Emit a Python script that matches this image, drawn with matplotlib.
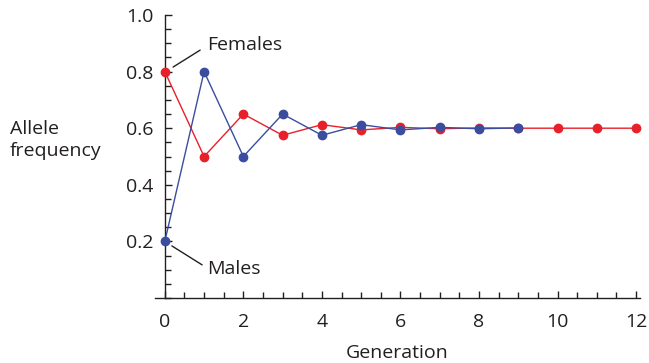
import matplotlib.pyplot as plt
from matplotlib.ticker import MultipleLocator

# allele frequency
generations_f = [0, 1, 2, 3, 4, 5, 6, 7, 8, 9, 10, 11, 12]
females = [0.8, 0.5, 0.65, 0.575, 0.6125, 0.594, 0.603, 0.598, 0.601, 0.600, 0.600, 0.600, 0.600]
generations_m = [0, 1, 2, 3, 4, 5, 6, 7, 8, 9]
males = [0.2, 0.8, 0.5, 0.65, 0.575, 0.6125, 0.594, 0.603, 0.598, 0.601]
xticks = [0, 2, 4, 6, 8, 10, 12]
yticks = [0.2, 0.4, 0.6, 0.8, 1.0]

red = '#e8202a'
blue = '#3b4d9e'
ink = '#231f20'

plt.rcParams['font.family'] = ['Open Sans', 'DejaVu Sans']
plt.rcParams['font.size'] = 14

fig = plt.figure(figsize=(6.49, 3.63), dpi=100)
ax = fig.add_axes([155 / 649, 1 - 298 / 363, 485 / 649, 283 / 363])

ax.plot(generations_f, females, color=red, lw=1.0, marker='o', ms=6,
        clip_on=False, zorder=3)
ax.plot(generations_m, males, color=blue, lw=1.0, marker='o', ms=6,
        clip_on=False, zorder=4)

ax.set_xlim(-0.25, 12.1)
ax.set_ylim(0, 1.0)

for s in ['top', 'right']:
    ax.spines[s].set_visible(False)
ax.spines['left'].set_position(('data', 0))
for s in ['left', 'bottom']:
    ax.spines[s].set_color(ink)
    ax.spines[s].set_linewidth(1.0)

ax.set_xticks(xticks)
ax.set_yticks(yticks)
ax.xaxis.set_minor_locator(MultipleLocator(0.5))
ax.yaxis.set_minor_locator(MultipleLocator(0.05))
ax.tick_params(which='both', direction='in', color=ink, width=1.0,
               labelcolor=ink, labelsize=14)
ax.tick_params(which='major', length=5)
ax.tick_params(which='minor', length=4)
ax.tick_params(axis='y', which='major', pad=8)
ax.tick_params(axis='x', which='major', pad=11)

ax.set_xlabel('Generation', color=ink, fontsize=14, labelpad=9)
fig.text(10 / 649, 1 - 140 / 363, 'Allele\nfrequency', color=ink,
         fontsize=14, ha='left', va='center', linespacing=1.25)

# labels with leader lines
ax.text(1.09, 0.895, 'Females', color=ink, fontsize=14, va='center')
ax.annotate('', xy=(0.21, 0.816), xytext=(0.9, 0.876),
            arrowprops=dict(arrowstyle='-', color=ink, lw=1.0,
                            shrinkA=0, shrinkB=0))
ax.text(1.07, 0.104, 'Males', color=ink, fontsize=14, va='center')
ax.annotate('', xy=(0.18, 0.184), xytext=(0.95, 0.117),
            arrowprops=dict(arrowstyle='-', color=ink, lw=1.0,
                            shrinkA=0, shrinkB=0))

fig.savefig('out.png', dpi=100)
